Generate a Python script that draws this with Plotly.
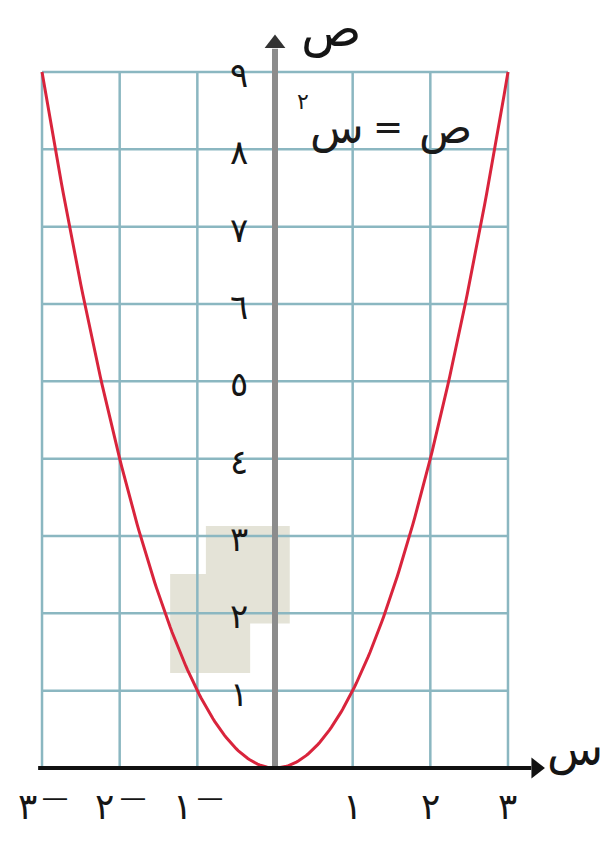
import numpy as np
import plotly.graph_objects as go

# Graph of the function ص = س² on a square grid
x_ticks = [-3, -2, -1, 1, 2, 3]
x_tick_digits = ["٣", "٢", "١", "١", "٢", "٣"]
y_ticks = [1, 2, 3, 4, 5, 6, 7, 8, 9]
y_tick_text = ["١", "٢", "٣", "٤", "٥", "٦", "٧", "٨", "٩"]
grid_x = [-3, -2, -1, 1, 2, 3]
grid_y = [1, 2, 3, 4, 5, 6, 7, 8, 9]
x_min, x_max = -3, 3
y_min, y_max = 0, 9

# curve from the stated equation ص = س²
curve_x = np.linspace(x_min, x_max, 241)
curve_y = curve_x ** 2

GRID = "#8bb7c1"
RED = "#d9243c"
AXIS_GRAY = "#8c8c8c"
FONT = "DejaVu Sans"
INK = "#151515"

fig = go.Figure()

shapes = []
# light shaded blocks behind the grid
shapes.append(dict(type="rect", xref="x", yref="y", x0=-0.89, x1=0.19, y0=1.87, y1=3.13,
                   fillcolor="#e4e3d7", line=dict(width=0), layer="below"))
shapes.append(dict(type="rect", xref="x", yref="y", x0=-1.35, x1=-0.32, y0=1.23, y1=2.51,
                   fillcolor="#e4e3d7", line=dict(width=0), layer="below"))

for gx in grid_x:
    shapes.append(dict(type="line", xref="x", yref="y", x0=gx, x1=gx, y0=y_min, y1=y_max,
                       line=dict(color=GRID, width=2.5), layer="below"))
for gy in grid_y:
    shapes.append(dict(type="line", xref="x", yref="y", x0=x_min, x1=x_max, y0=gy, y1=gy,
                       line=dict(color=GRID, width=2.5), layer="below"))

# axes
shapes.append(dict(type="line", xref="x", yref="y", x0=0, x1=0, y0=0, y1=9.3,
                   line=dict(color=AXIS_GRAY, width=6)))
shapes.append(dict(type="line", xref="x", yref="y", x0=-3.05, x1=3.3, y0=0, y1=0,
                   line=dict(color="#111111", width=4)))

fig.add_trace(go.Scatter(x=curve_x, y=curve_y, mode="lines",
                         line=dict(color=RED, width=3), hoverinfo="skip"))

# arrow heads
fig.add_trace(go.Scatter(x=[0], y=[9.37], mode="markers",
                         marker=dict(symbol="triangle-up", size=18, color="#333333"),
                         hoverinfo="skip"))
fig.add_trace(go.Scatter(x=[3.36], y=[0], mode="markers",
                         marker=dict(symbol="triangle-right", size=18, color="#111111"),
                         hoverinfo="skip"))

annotations = []
for v, d in zip(x_ticks, x_tick_digits):
    negative = v < 0
    annotations.append(dict(x=v, y=-0.5, xref="x", yref="y", text=d, showarrow=False,
                            xshift=-15 if negative else 0,
                            font=dict(family=FONT, size=36, color=INK)))
    if negative:
        # raised minus sign written after the digit
        annotations.append(dict(x=v, y=-0.5, xref="x", yref="y", text="―", showarrow=False,
                                xshift=13, yshift=9,
                                font=dict(family=FONT, size=24, color=INK)))
for v, t in zip(y_ticks, y_tick_text):
    annotations.append(dict(x=-0.47, y=v, xref="x", yref="y", text=t, showarrow=False,
                            yshift=-3, font=dict(family=FONT, size=34, color=INK)))

# axis names
annotations.append(dict(x=0.72, y=9.56, xref="x", yref="y", text="ص", showarrow=False,
                        font=dict(family=FONT, size=50, color=INK)))
annotations.append(dict(x=3.86, y=0.24, xref="x", yref="y", text="س", showarrow=False,
                        font=dict(family=FONT, size=46, color=INK)))

# equation label ص = س²
annotations.append(dict(x=2.2, y=8.27, xref="x", yref="y", text="ص", showarrow=False,
                        font=dict(family=FONT, size=44, color="#1a1a1a")))
annotations.append(dict(x=1.46, y=8.3, xref="x", yref="y", text="=", showarrow=False,
                        font=dict(family=FONT, size=36, color="#1a1a1a")))
annotations.append(dict(x=0.8, y=8.27, xref="x", yref="y", text="س", showarrow=False,
                        font=dict(family=FONT, size=44, color="#1a1a1a")))
annotations.append(dict(x=0.36, y=8.62, xref="x", yref="y", text="٢", showarrow=False,
                        font=dict(family=FONT, size=22, color="#1a1a1a")))

fig.update_layout(
    width=614, height=848, autosize=False,
    margin=dict(l=0, r=0, t=0, b=0),
    paper_bgcolor="white", plot_bgcolor="white",
    showlegend=False,
    shapes=shapes, annotations=annotations,
    xaxis=dict(range=[-3.541, 4.365], visible=False, fixedrange=True),
    yaxis=dict(range=[-1.0345, 9.931], visible=False, fixedrange=True),
)

fig.write_html("out.html")
